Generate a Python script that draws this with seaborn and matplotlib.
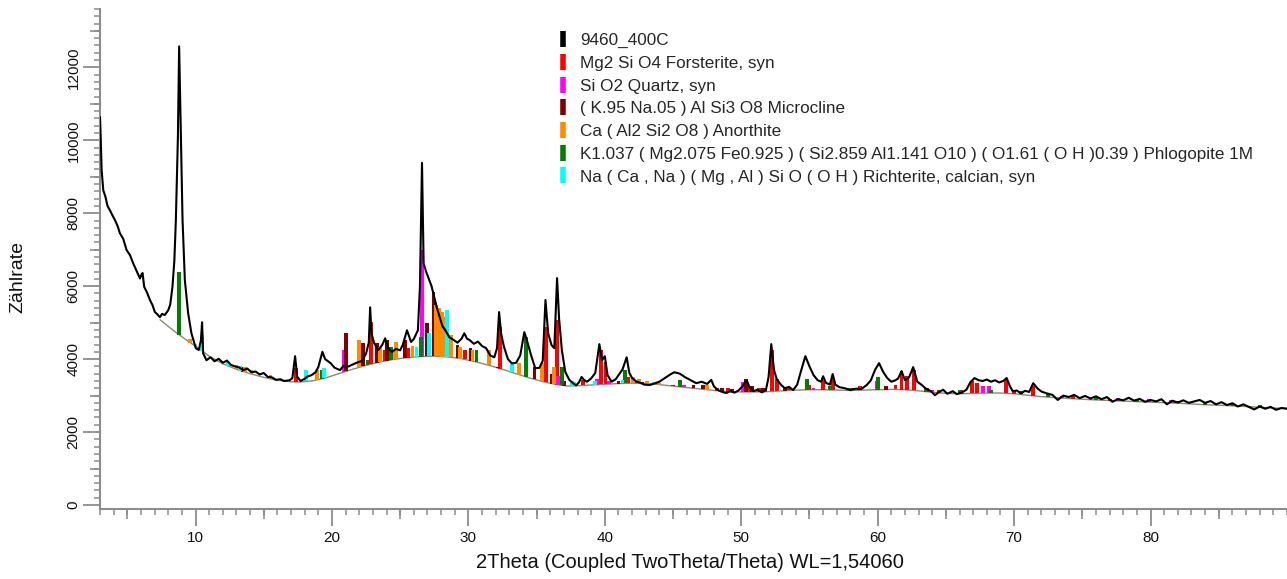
import numpy as np
import pandas as pd
import matplotlib
matplotlib.use("Agg")
import matplotlib.pyplot as plt
from matplotlib.lines import Line2D
from matplotlib.ticker import MultipleLocator, FixedLocator, NullFormatter
import seaborn as sns

# ---------------- data ----------------
# measured pattern (2Theta, counts)
scan_x = [3.0, 3.05, 3.12, 3.24, 3.4, 3.55, 3.73, 3.9, 4.1, 4.3, 4.46, 4.7, 4.95, 5.2, 5.44, 5.7, 5.93,
          6.05, 6.12, 6.24, 6.45, 6.66, 6.85, 7.02, 7.2, 7.39, 7.55, 7.75, 8.0, 8.15, 8.31, 8.45, 8.56,
          8.71, 8.8, 8.93, 9.05, 9.22, 9.46, 9.7, 10.02, 10.24, 10.4, 10.48, 10.56, 10.8, 11.1, 11.4,
          11.7, 12.0, 12.3, 12.6, 12.9, 13.2, 13.5, 13.8, 14.1, 14.4, 14.7, 15.0, 15.3, 15.6, 15.9,
          16.2, 16.5, 16.9, 17.1, 17.3, 17.45, 17.7, 18.0, 18.2, 18.5, 18.8, 19.0, 19.3, 19.5, 19.9,
          20.2, 20.6, 20.85, 21.1, 21.4, 21.8, 22.2, 22.5, 22.7, 22.8, 22.9, 23.1, 23.4, 23.7, 23.9,
          24.1, 24.4, 24.7, 25.0, 25.2, 25.5, 25.8, 26.0, 26.3, 26.45, 26.6, 26.72, 26.9, 27.1, 27.3,
          27.5, 27.7, 27.9, 28.1, 28.3, 28.6, 28.9, 29.2, 29.5, 29.7, 29.9, 30.1, 30.4, 30.7, 31.0,
          31.3, 31.6, 31.9, 32.1, 32.25, 32.4, 32.6, 32.9, 33.2, 33.5, 33.8, 34.1, 34.3, 34.6, 34.9,
          35.2, 35.45, 35.65, 35.85, 36.1, 36.3, 36.5, 36.65, 36.85, 37.1, 37.4, 37.7, 37.9, 38.1,
          38.3, 38.5, 38.7, 39.0, 39.3, 39.6, 39.8, 40.0, 40.2, 40.5, 40.8, 41.0, 41.3, 41.6, 41.8,
          42.0, 42.3, 42.6, 42.9, 43.3, 43.7, 44.0, 44.4, 44.8, 45.1, 45.5, 45.9, 46.3, 46.7, 47.1,
          47.5, 47.8, 48.0, 48.3, 48.6, 48.9, 49.2, 49.5, 49.8, 50.1, 50.4, 50.6, 50.9, 51.2, 51.5,
          51.8, 52.0, 52.2, 52.4, 52.6, 52.9, 53.2, 53.5, 53.8, 54.1, 54.4, 54.7, 55.0, 55.3, 55.6,
          55.85, 56.0, 56.2, 56.5, 56.7, 56.9, 57.2, 57.6, 58.0, 58.4, 58.8, 59.2, 59.5, 59.8, 60.1,
          60.4, 60.7, 61.0, 61.3, 61.5, 61.75, 62.0, 62.3, 62.6, 62.9, 63.2, 63.5, 63.9, 64.2, 64.5,
          64.8, 65.1, 65.5, 65.8, 66.2, 66.5, 66.8, 67.1, 67.4, 67.7, 68.0, 68.3, 68.6, 68.9, 69.2,
          69.45, 69.7, 69.9, 70.2, 70.5, 70.8, 71.1, 71.4, 71.7, 72.0, 72.4, 72.8, 73.2, 73.6, 74.0,
          74.4, 74.8, 75.2, 75.6, 76.0, 76.4, 76.8, 77.2, 77.6, 78.0, 78.4, 78.8, 79.2, 79.6, 80.0,
          80.4, 80.8, 81.2, 81.6, 82.0, 82.4, 82.8, 83.2, 83.6, 84.0, 84.4, 84.8, 85.2, 85.6, 86.0,
          86.4, 86.8, 87.2, 87.6, 88.0, 88.4, 88.8, 89.2, 89.6, 90.0]
scan_y = [10640, 10100, 9180, 8630, 8450, 8200, 8080, 7950, 7810, 7640, 7450, 7300, 6990, 6850, 6620,
          6400, 6210, 6330, 6360, 5980, 5820, 5620, 5480, 5290, 5230, 5150, 5240, 5210, 5340, 5500,
          5980, 6700, 7810, 10090, 12575, 10090, 7810, 6160, 5260, 4710, 4300, 4250, 4520, 5010, 4160,
          3970, 4050, 3940, 4010, 3900, 3960, 3840, 3800, 3770, 3700, 3740, 3640, 3660, 3580, 3620,
          3510, 3500, 3430, 3450, 3400, 3420, 3480, 4080, 3520, 3400, 3460, 3520, 3560, 3640, 3780,
          4200, 4000, 3890, 3760, 3700, 3820, 3780, 3830, 3900, 3950, 4150, 4450, 5420, 4700, 4430,
          4250, 4400, 4570, 4300, 4200, 4280, 4240, 4400, 4790, 4470, 4550, 4790, 6000, 9380, 6620,
          6400, 6200, 6000, 5700, 5400, 5150, 4900, 4800, 4600, 4530, 4450, 4560, 4710, 4560, 4520,
          4420, 4480, 4360, 4300, 4100, 4050, 4300, 5290, 4700, 4350, 4000, 3880, 3900, 4100, 4740,
          4500, 4100, 3750, 3760, 3950, 5620, 4700, 4380, 4300, 6220, 5100, 4250, 3650, 3430, 3330,
          3280, 3360, 3510, 3420, 3380, 3470, 3620, 4410, 3970, 4080, 3560, 3380, 3450, 3560, 3720,
          4050, 3620, 3480, 3390, 3350, 3300, 3290, 3340, 3380, 3480, 3580, 3640, 3600, 3500, 3420,
          3340, 3380, 3320, 3430, 3250, 3150, 3100, 3070, 3120, 3080, 3140, 3260, 3420, 3230, 3120,
          3160, 3090, 3140, 3500, 4410, 3700, 3450, 3300, 3200, 3240, 3150, 3300, 3700, 4080, 3800,
          3560, 3420, 3380, 3530, 3350, 3300, 3590, 3300, 3230, 3200, 3150, 3190, 3180, 3290, 3420,
          3700, 3890, 3650, 3480, 3380, 3420, 3470, 3670, 3420, 3500, 3780, 3380, 3300, 3200, 3120,
          3010, 3100, 3160, 3050, 3120, 3040, 3090, 3160, 3370, 3480, 3420, 3400, 3440, 3380, 3420,
          3360, 3400, 3480, 3250, 3120, 3140, 3060, 3130, 3100, 3340, 3200, 3110, 3060, 3020, 2880,
          3000, 2960, 3020, 2930, 2990, 2920, 2980, 2900, 2960, 2830, 2900, 2870, 2940, 2860, 2910,
          2830, 2880, 2840, 2900, 2760, 2860, 2810, 2870, 2800, 2840, 2880, 2800, 2850, 2760, 2820,
          2740, 2790, 2700, 2760, 2690, 2620, 2700, 2640, 2690, 2610, 2660, 2640]

# fitted background
bg_x = [7.4, 8.5, 9.5, 10.3, 11.0, 12.0, 13.0, 14.0, 15.0, 16.0, 17.0, 17.6, 18.5, 19.5, 20.5, 21.5,
        22.5, 23.5, 24.5, 25.5, 26.5, 27.5, 28.5, 29.5, 30.5, 31.5, 32.5, 33.5, 34.5, 35.5, 36.5,
        37.3, 38.0, 39.0, 40.0, 41.0, 42.0, 43.0, 44.0, 45.0, 46.0, 47.0, 48.0, 49.0, 50.0, 51.0,
        52.0, 53.0, 54.0, 55.0, 56.0, 57.0, 58.0, 59.0, 60.0, 61.0, 62.0, 63.0, 64.0, 65.0, 66.0,
        67.0, 68.0, 69.0, 70.0, 71.0, 72.0, 74.0, 76.0, 78.0, 80.0, 82.0, 84.0, 86.0, 88.0, 90.0]
bg_y = [5080, 4750, 4480, 4280, 4080, 3870, 3720, 3600, 3500, 3420, 3380, 3370, 3400, 3480, 3600, 3720,
        3830, 3920, 3990, 4040, 4070, 4080, 4060, 4010, 3930, 3830, 3720, 3600, 3480, 3380, 3300,
        3260, 3270, 3290, 3310, 3330, 3340, 3330, 3300, 3260, 3220, 3180, 3140, 3110, 3100, 3100,
        3110, 3130, 3150, 3160, 3160, 3150, 3140, 3150, 3160, 3170, 3160, 3130, 3090, 3060, 3050,
        3060, 3070, 3070, 3050, 3010, 2970, 2920, 2880, 2850, 2820, 2790, 2750, 2720, 2680, 2640]

# reference phases: stick position and top (counts)
phase_names = ["9460_400C",
               "Mg2 Si O4 Forsterite, syn",
               "Si O2 Quartz, syn",
               "( K.95 Na.05 ) Al Si3 O8 Microcline",
               "Ca ( Al2 Si2 O8 ) Anorthite",
               "K1.037 ( Mg2.075 Fe0.925 ) ( Si2.859 Al1.141 O10 ) ( O1.61 ( O H )0.39 ) Phlogopite 1M",
               "Na ( Ca , Na ) ( Mg , Al ) Si O ( O H ) Richterite, calcian, syn"]
phase_colors = ["#000000", "#ff0000", "#ff00ff", "#800000", "#ff8c00", "#008000", "#00ffff"]

forsterite_x = [17.35, 22.85, 23.85, 25.6, 29.75, 32.3, 35.7, 36.5, 38.4, 39.7, 40.05, 41.7, 42.2, 43.7,
                45.0, 48.2, 49.0, 50.5, 51.3, 52.25, 52.6, 53.5, 55.0, 56.0, 56.7, 58.7, 61.3, 61.75,
                62.15, 62.65, 63.6, 64.5, 66.1, 66.9, 67.3, 69.4, 70.0, 71.4, 72.5, 74.3, 77.0, 81.7]
forsterite_top = [3750, 5020, 4250, 4300, 4250, 4880, 4880, 5070, 3420, 4250, 3920, 3500, 3400, 3350,
                  3300, 3200, 3200, 3250, 3200, 4250, 3450, 3230, 3300, 3420, 3450, 3250, 3300, 3670,
                  3550, 3700, 3200, 3150, 3150, 3400, 3350, 3420, 3150, 3250, 3050, 3000, 2900, 2860]

quartz_x = [20.85, 26.62, 36.55, 39.45, 40.3, 42.45, 45.8, 50.15, 54.85, 55.3, 59.95, 64.0, 67.7, 68.15,
            73.5, 75.6, 77.6, 79.9, 81.5]
quartz_top = [4250, 6990, 3550, 3450, 3400, 3400, 3300, 3380, 3300, 3220, 3400, 3150, 3250, 3260,
              3000, 2950, 2920, 2900, 2880]

microcline_x = [13.5, 21.05, 22.25, 23.3, 24.05, 25.35, 26.95, 27.45, 29.2, 30.15, 32.15, 34.85, 36.15,
                37.0, 41.0, 42.7, 46.5, 47.2, 48.6, 49.3, 50.35, 50.8, 51.6, 53.2, 58.2, 60.6]
microcline_top = [3780, 4710, 4430, 4430, 4520, 4520, 4980, 5840, 4400, 4300, 3780, 3780, 3600,
                  3400, 3400, 3380, 3300, 3300, 3200, 3180, 3450, 3250, 3200, 3200, 3200, 3250]

anorthite_x = [9.6, 13.0, 13.6, 14.1, 15.5, 18.9, 22.0, 23.5, 24.4, 24.7, 25.9, 27.6, 27.85, 28.05,
               28.25, 28.7, 29.4, 30.3, 31.5, 33.7, 35.4, 36.3, 42.05, 42.5, 43.1, 44.0, 47.5]
anorthite_top = [4560, 3850, 3780, 3700, 3560, 3700, 4520, 4340, 4250, 4470, 4350, 5480, 5400, 5300,
                 5150, 4650, 4340, 4250, 4250, 3900, 3890, 3780, 3510, 3450, 3400, 3350, 3300]

phlogopite_x = [8.8, 19.3, 22.6, 24.3, 26.5, 30.6, 34.2, 36.85, 41.5, 45.5, 54.8, 56.5, 58.0, 60.0,
                63.5, 66.0, 68.3, 70.5, 72.5, 76.0, 79.0, 82.0, 84.0, 86.0, 88.0]
phlogopite_top = [6380, 3700, 3970, 4340, 4600, 4250, 4600, 3780, 3700, 3420, 3450, 3260, 3220, 3500,
                  3220, 3140, 3150, 3120, 3040, 2950, 2910, 2860, 2830, 2790, 2750]

richterite_x = [10.0, 10.47, 12.4, 13.3, 18.1, 19.4, 26.2, 27.1, 28.45, 33.2, 37.6, 37.75, 39.3, 41.3,
                43.6]
richterite_top = [4420, 4650, 3920, 3800, 3700, 3750, 4340, 4710, 5340, 3920, 3400, 3380, 3400, 3420,
                  3370]

x_major = [10, 20, 30, 40, 50, 60, 70, 80]
y_major = [0, 2000, 4000, 6000, 8000, 10000, 12000]
x_label = "2Theta (Coupled TwoTheta/Theta) WL=1,54060"
y_label = "Zählrate"

# ---------------- style ----------------
sns.set_style("white")
plt.rcParams["font.family"] = ["Liberation Sans", "DejaVu Sans"]
AX_GREY = "#8c8c8c"

W, H = 1287, 579
fig = plt.figure(figsize=(W / 100, H / 100), dpi=100)
ax = fig.add_axes([100 / W, (H - 509) / H, 1 - 100 / W, (509 - 9) / H])

# phase sticks (drawn in legend order, later ones on top)
sticks = [(forsterite_x, forsterite_top), (quartz_x, quartz_top), (microcline_x, microcline_top),
          (anorthite_x, anorthite_top), (phlogopite_x, phlogopite_top), (richterite_x, richterite_top)]
for (sx, st), col in zip(sticks, phase_colors[1:]):
    sx = np.asarray(sx, float)
    bottom = np.interp(sx, bg_x, bg_y)
    ax.bar(sx, np.asarray(st) - bottom, bottom=bottom, width=0.28, color=col,
           linewidth=0, zorder=2)

bg_df = pd.DataFrame({"x": bg_x, "y": bg_y})
sns.lineplot(data=bg_df, x="x", y="y", ax=ax, color="#8a8a72", lw=1.0, zorder=1,
             estimator=None, sort=False)
scan_df = pd.DataFrame({"x": scan_x, "y": scan_y})
sns.lineplot(data=scan_df, x="x", y="y", ax=ax, color="black", lw=1.5, zorder=3,
             estimator=None, sort=False)

ax.set_xlim(3, 90)
ax.set_ylim(-110, 13600)

for s in ["top", "right"]:
    ax.spines[s].set_visible(False)
for s in ["left", "bottom"]:
    ax.spines[s].set_color(AX_GREY)
    ax.spines[s].set_linewidth(1.5)

ax.xaxis.set_major_locator(FixedLocator(x_major))
ax.xaxis.set_minor_locator(MultipleLocator(1))
ax.yaxis.set_major_locator(FixedLocator(y_major))
ax.yaxis.set_minor_locator(MultipleLocator(200))
ax.tick_params(axis="both", which="both", bottom=True, left=True, direction="out")
ax.tick_params(axis="both", which="major", length=12, width=1.3, color=AX_GREY,
               labelsize=11, labelcolor="#111111")
ax.tick_params(axis="both", which="minor", length=4, width=1.1, color=AX_GREY)
ax.tick_params(axis="x", which="major", pad=4)
ax.tick_params(axis="y", which="major", pad=2)
ax.set_xticklabels([str(v) for v in x_major])
ax.set_yticklabels([str(v) for v in y_major], rotation=90, va="center")

# medium ticks at 5s and 1000s
secx = ax.secondary_xaxis("bottom")
secx.set_xticks([5, 15, 25, 35, 45, 55, 65, 75, 85])
secx.xaxis.set_major_formatter(NullFormatter())
secx.tick_params(bottom=True, length=7, width=1.2, color=AX_GREY)
secx.spines["bottom"].set_visible(False)
secy = ax.secondary_yaxis("left")
secy.set_yticks([1000, 3000, 5000, 7000, 9000, 11000, 13000])
secy.yaxis.set_major_formatter(NullFormatter())
secy.tick_params(left=True, length=7, width=1.2, color=AX_GREY)
secy.spines["left"].set_visible(False)

ax.set_xlabel("")
ax.set_ylabel("")
fig.text(690 / W, 1 - 563 / H, x_label, ha="center", va="center", fontsize=14.5, color="#111111")
fig.text(18 / W, 1 - 277 / H, y_label, ha="center", va="center", rotation=90, fontsize=14,
         color="#111111")

handles = [Line2D([], [], ls="none", marker="|", markersize=12, markeredgewidth=4, color=c)
           for c in phase_colors]
ax.legend(handles, phase_names, loc="upper left", bbox_to_anchor=(556 / W, 1 - 33 / H),
          bbox_transform=fig.transFigure, frameon=False, fontsize=12.35, handlelength=0.8,
          handletextpad=0.6, labelspacing=0.45, borderpad=0, borderaxespad=0)

fig.savefig("out.png", dpi=100)
